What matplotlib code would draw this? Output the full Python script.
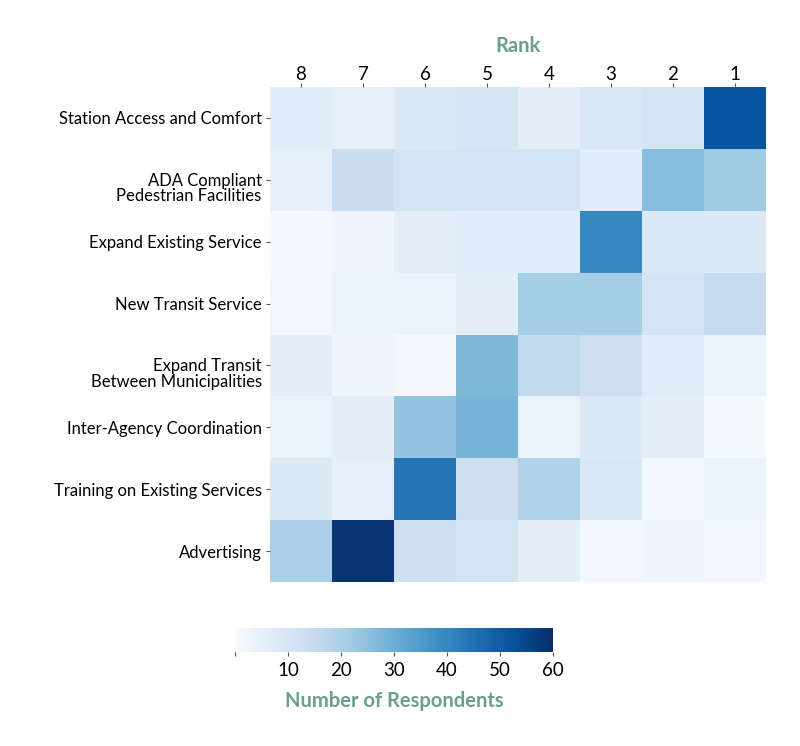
import numpy as np
import matplotlib
matplotlib.use("Agg")
import matplotlib.pyplot as plt
from matplotlib.transforms import ScaledTranslation

plt.rcParams['font.family'] = ['Lato', 'DejaVu Sans']

# rows = priorities, columns = rank 8 .. 1
priorities = ["Station Access and Comfort",
              "ADA Compliant\nPedestrian Facilities",
              "Expand Existing Service",
              "New Transit Service",
              "Expand Transit\nBetween Municipalities",
              "Inter-Agency Coordination",
              "Training on Existing Services",
              "Advertising"]
ranks = ["8", "7", "6", "5", "4", "3", "2", "1"]

counts = np.array([
    [7, 5, 8, 10, 6, 9, 11, 52],
    [5, 14, 11, 11, 11, 7, 26, 22],
    [1, 3, 6, 7, 7, 40, 9, 8],
    [2, 4, 4, 6, 21, 21, 11, 15],
    [6, 3, 2, 27, 16, 13, 7, 4],
    [4, 6, 24, 28, 4, 8, 6, 1],
    [8, 5, 44, 13, 19, 9, 2, 4],
    [20, 59, 13, 11, 6, 2, 3, 2],
])

teal = "#6a9e8f"

fig = plt.figure(figsize=(8, 7.46), dpi=100)
ax = fig.add_axes([0.3375, 0.2198, 0.62, 0.6636])
mesh = ax.pcolormesh(counts, cmap="Blues", vmin=0, vmax=60)
ax.set_xlim(0, 8)
ax.set_ylim(8, 0)
ax.set_xticks(np.arange(8) + 0.5)
ax.set_xticklabels(ranks, fontsize=13.5)
ax.set_yticks(np.arange(8) + 0.5)
ax.set_yticklabels(priorities, fontsize=12, linespacing=0.95)
ax.xaxis.tick_top()
ax.tick_params(axis='x', length=3, width=0.8, color='#555555', pad=0)
ax.tick_params(axis='y', length=3, width=0.8, color='#555555', pad=3)
for s in ax.spines.values():
    s.set_visible(False)
ax.set_xlabel("Rank", fontsize=14.5, fontweight='bold', color=teal, labelpad=10)
ax.xaxis.set_label_position('top')

# two-line labels: keep the first line level with the tick
shift = ScaledTranslation(0, -7.5 / 100, fig.dpi_scale_trans)
for lab in ax.get_yticklabels():
    if "\n" in lab.get_text():
        lab.set_transform(lab.get_transform() + shift)

cax = fig.add_axes([0.29375, 0.126, 0.3975, 0.032])
cb = fig.colorbar(mesh, cax=cax, orientation='horizontal')
cb.set_ticks([0, 10, 20, 30, 40, 50, 60])
cb.set_ticklabels(["", "10", "20", "30", "40", "50", "60"])
cb.ax.tick_params(labelsize=13.5, length=3, width=0.8, color='#555555', pad=4)
cb.outline.set_visible(False)
cb.set_label("Number of Respondents", fontsize=14.5, fontweight='bold',
             color=teal, labelpad=9)

fig.savefig("out.png", dpi=100)
